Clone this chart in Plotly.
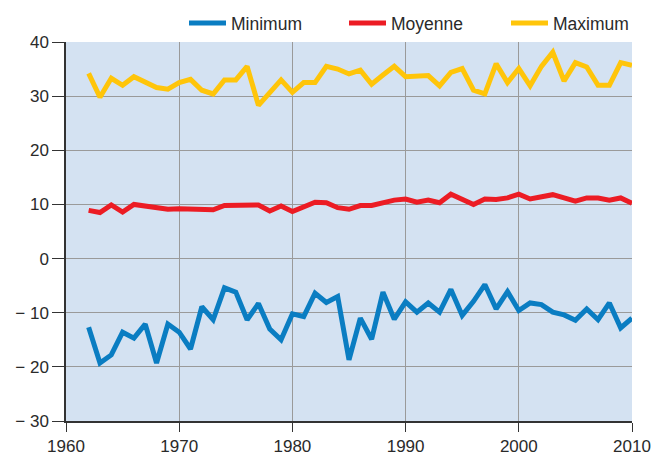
import plotly.graph_objects as go

years = list(range(1962, 2011))

minimum = [-12.7, -19.3, -17.8, -13.6, -14.7, -12.1, -19.3, -12.1, -13.6, -16.7,
           -8.9, -11.3, -5.4, -6.2, -11.3, -8.3, -13.0, -15.0, -10.2, -10.7,
           -6.4, -8.1, -7.0, -18.7, -11.0, -14.9, -6.2, -11.2, -8.0, -9.9,
           -8.2, -9.9, -5.7, -10.5, -7.9, -4.8, -9.3, -6.1, -9.6, -8.2,
           -8.5, -9.9, -10.4, -11.4, -9.3, -11.3, -8.2, -12.8, -11.0]

moyenne = [8.9, 8.5, 9.9, 8.6, 10.0, 9.7, 9.3, 9.1, 9.2, 9.2,
           9.2, 9.0, 9.8, 9.8, 9.9, 9.9, 8.8, 9.7, 8.7, 9.5,
           10.4, 10.3, 9.4, 9.1, 9.8, 9.8, 10.4, 10.8, 11.0, 10.4,
           10.8, 10.3, 11.9, 10.9, 10.0, 11.0, 10.9, 11.2, 11.9, 11.0,
           11.5, 11.8, 11.2, 10.6, 11.2, 11.2, 10.8, 11.2, 10.2]

maximum = [34.2, 29.8, 33.3, 32.0, 33.6, 32.5, 31.6, 31.3, 32.5, 33.1,
           31.1, 30.4, 33.0, 33.0, 35.5, 28.3, 30.7, 33.0, 30.7, 32.5,
           32.5, 35.5, 35.0, 34.1, 34.8, 32.2, 33.9, 35.5, 33.6, 33.6,
           33.8, 31.9, 34.4, 35.1, 31.1, 30.4, 36.0, 32.5, 35.1, 31.9,
           35.5, 38.1, 32.8, 36.2, 35.4, 32.0, 32.0, 36.2, 35.7]

series_names = ["Minimum", "Moyenne", "Maximum"]
series_colors = ["#0A7DC2", "#EC1C24", "#FFC50A"]
legend_ids = ["legend", "legend2", "legend3"]
legend_x_px = [184, 344, 506]

x_ticks = [1960, 1970, 1980, 1990, 2000, 2010]
y_ticks = [40, 30, 20, 10, 0, -10, -20, -30]
y_labels = ["40", "30", "20", "10", "0", "\u2212 10", "\u2212 20", "\u2212 30"]

W, H = 656, 456

fig = go.Figure()
for name, vals, col, lg in zip(series_names, [minimum, moyenne, maximum], series_colors, legend_ids):
    fig.add_trace(go.Scatter(x=years, y=vals, mode="lines", name=name, legend=lg,
                             line=dict(color=col, width=5)))

font = dict(family="Liberation Sans, Arial, sans-serif", size=17, color="#2a2a2a")
legend_font = dict(family="Liberation Sans, Arial, sans-serif", size=17.5, color="#2a2a2a")

legends = {}
for lg, xpx in zip(legend_ids, legend_x_px):
    legends[lg] = dict(orientation="h", xref="container", yref="container",
                       x=xpx / W, xanchor="left", y=1 - 23 / H, yanchor="middle",
                       itemwidth=37,
                       font=legend_font, bgcolor="rgba(0,0,0,0)", borderwidth=0)

fig.update_layout(
    width=W, height=H,
    margin=dict(l=66, r=24, t=42, b=35, autoexpand=False),
    paper_bgcolor="white",
    plot_bgcolor="#D4E2F2",
    font=font,
    showlegend=True,
    **legends,
    xaxis=dict(range=[1960, 2010], tickvals=x_ticks, showgrid=True,
               gridcolor="#9A9A9A", gridwidth=1, zeroline=False,
               showline=True, linecolor="#333333", linewidth=1.5,
               ticks="outside", ticklen=9, tickcolor="#333333",
               tickfont=font),
    yaxis=dict(range=[-30, 40], tickvals=y_ticks, ticktext=y_labels,
               showgrid=True, gridcolor="#9A9A9A", gridwidth=1, zeroline=False,
               showline=True, linecolor="#333333", linewidth=1.5,
               ticks="outside", ticklen=12, tickcolor="#333333",
               tickfont=font),
)

fig.write_html("out.html",
               config={"displayModeBar": False},
               post_script="document.body.style.margin='0';document.body.style.padding='0';")
